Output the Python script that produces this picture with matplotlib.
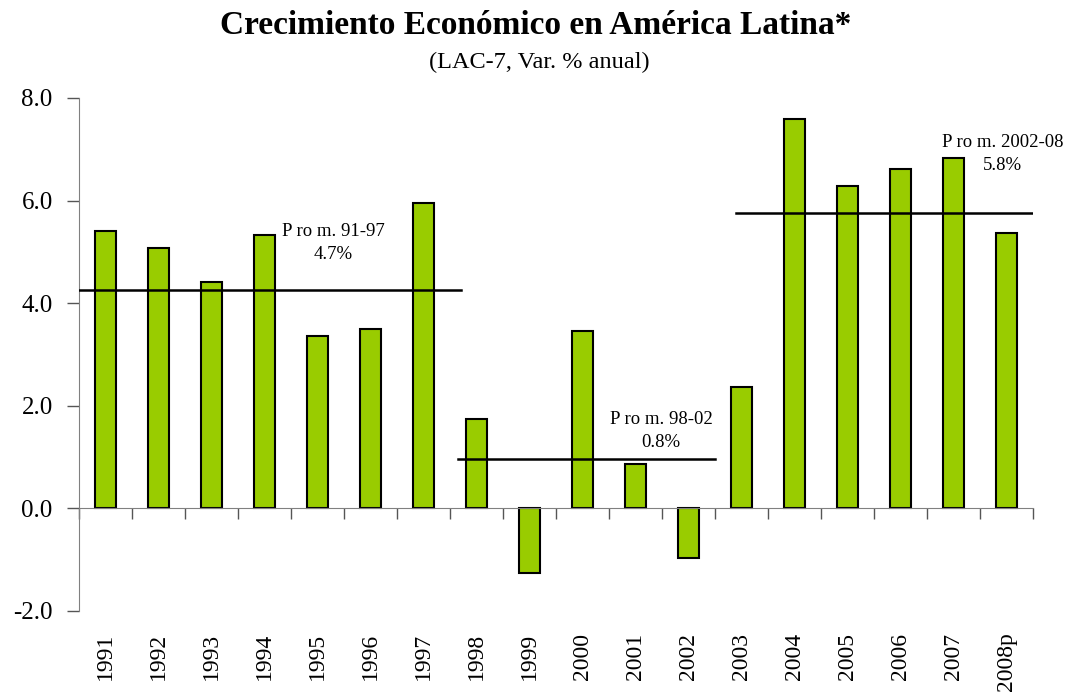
import matplotlib
matplotlib.use("Agg")
import matplotlib.pyplot as plt
import matplotlib.transforms as mtransforms

plt.rcParams['font.family'] = ['Liberation Serif', 'DejaVu Serif']

years = ['1991', '1992', '1993', '1994', '1995', '1996', '1997', '1998', '1999',
         '2000', '2001', '2002', '2003', '2004', '2005', '2006', '2007', '2008p']
growth = [5.41, 5.08, 4.41, 5.33, 3.36, 3.50, 5.96, 1.74, -1.26,
          3.46, 0.87, -0.97, 2.37, 7.58, 6.28, 6.61, 6.83, 5.36]

# promedios por periodo: (inicio, fin, nivel de la linea, texto)
prom_labels = ['P ro m. 91-97\n4.7%', 'P ro m. 98-02\n0.8%', 'P ro m. 2002-08\n5.8%']
prom_levels = [4.26, 0.96, 5.75]
prom_start = [-0.5, 6.65, 11.9]
prom_end = [6.7, 11.5, 17.5]
prom_text_pos = [(4.29, 5.17), (10.48, 1.51), (16.93, 6.9)]

fig = plt.figure(figsize=(10.78, 6.99), dpi=100)
ax = fig.add_axes([0.0733, 0.1259, 0.885, 0.734])

x = list(range(len(years)))
ax.bar(x, growth, width=0.40, color='#99CC00', edgecolor='black', linewidth=1.5, zorder=2)

for i in range(len(prom_levels)):
    ax.plot([prom_start[i], prom_end[i]], [prom_levels[i], prom_levels[i]],
            color='black', linewidth=1.8, zorder=3)
    tx, ty = prom_text_pos[i]
    ax.text(tx, ty, prom_labels[i], ha='center', va='center', multialignment='center',
            fontsize=13.5, linespacing=1.45, zorder=4)

ax.set_xlim(-0.5, len(years) - 0.5)
ax.set_ylim(-2, 8)
ax.set_yticks([-2, 0, 2, 4, 6, 8])
ax.set_yticklabels(['-2.0', '0.0', '2.0', '4.0', '6.0', '8.0'], fontsize=18)

ax.spines['top'].set_visible(False)
ax.spines['right'].set_visible(False)
ax.spines['bottom'].set_position(('data', 0))
ax.spines['bottom'].set_color('#808080')
ax.spines['left'].set_color('#808080')

ax.set_xticks([i - 0.5 for i in range(len(years) + 1)])
ax.set_xticklabels([])
ax.tick_params(axis='x', direction='out', length=8, color='#555555', width=1)
ax.tick_params(axis='y', direction='out', length=9, color='#555555', width=1, pad=10)

trans = mtransforms.blended_transform_factory(ax.transData, ax.transAxes)
for i, yr in enumerate(years):
    ax.text(i, -0.042, yr, transform=trans, rotation=90, ha='center', va='top', fontsize=17)

fig.text(0.497, 0.964, 'Crecimiento Económico en América Latina*', ha='center', va='center',
         fontsize=24, fontweight='bold')
fig.text(0.5, 0.911, '(LAC-7, Var. % anual)', ha='center', va='center', fontsize=17.5)

fig.savefig('out.png', dpi=100)
